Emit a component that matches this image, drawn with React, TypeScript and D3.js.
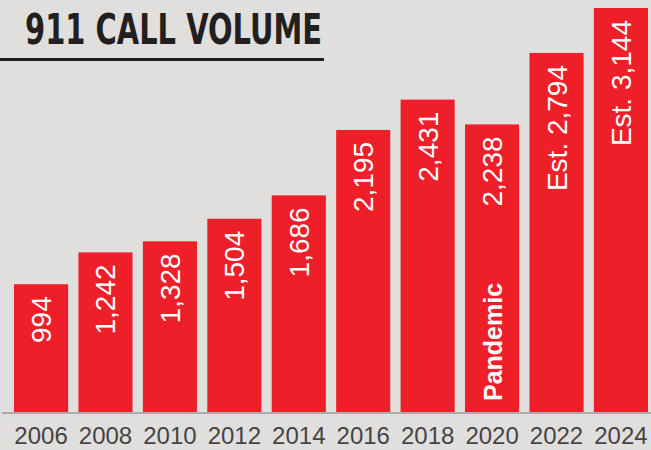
import { useRef, useEffect } from 'react';
import * as d3 from 'd3';

const years = ['2006', '2008', '2010', '2012', '2014', '2016', '2018', '2020', '2022', '2024'];
const calls = [994, 1242, 1328, 1504, 1686, 2195, 2431, 2238, 2794, 3144];
const estimated = [false, false, false, false, false, false, false, false, true, true];
const notes = ['', '', '', '', '', '', '', 'Pandemic', '', ''];

const title = '911 CALL VOLUME';

const width = 651;
const height = 450;
const baseline = 412;

const RED = '#ee1f29';
const BG = '#e0dfdd';

export default function App() {
  const svgRef = useRef<SVGSVGElement>(null);

  useEffect(() => {
    document.body.style.margin = '0';
    if (!svgRef.current) return;
    const svg = d3.select(svgRef.current);
    svg.selectAll('*').remove();

    const x = d3.scaleBand<string>().domain(years).range([14, 648]).paddingInner(0.16).paddingOuter(0);
    const y = d3.scaleLinear().domain([0, 3144]).range([baseline, 8]);

    svg.append('rect').attr('width', width).attr('height', height).attr('fill', BG);

    // title + rule
    svg
      .append('text')
      .attr('x', 25)
      .attr('y', 44)
      .attr('font-family', '"Liberation Sans Narrow", "DejaVu Sans Condensed", "Liberation Sans", sans-serif')
      .attr('font-weight', 'bold')
      .attr('font-size', 43)
      .attr('fill', '#231f20')
      .attr('textLength', 297)
      .attr('lengthAdjust', 'spacingAndGlyphs')
      .text(title);

    svg
      .append('line')
      .attr('x1', 0)
      .attr('x2', 324)
      .attr('y1', 59.5)
      .attr('y2', 59.5)
      .attr('stroke', '#231f20')
      .attr('stroke-width', 3);

    const data = years.map((yr, i) => ({ yr, v: calls[i], est: estimated[i], note: notes[i] }));

    svg
      .append('g')
      .selectAll('rect')
      .data(data)
      .join('rect')
      .attr('x', (d) => x(d.yr)!)
      .attr('y', (d) => y(d.v))
      .attr('width', x.bandwidth())
      .attr('height', (d) => baseline - y(d.v))
      .attr('fill', RED);

    // baseline
    svg
      .append('line')
      .attr('x1', 2)
      .attr('x2', width)
      .attr('y1', baseline + 1)
      .attr('y2', baseline + 1)
      .attr('stroke', '#9a9a9a')
      .attr('stroke-width', 1.5);

    // value labels, rotated
    const fmt = d3.format(',');
    svg
      .append('g')
      .selectAll('text')
      .data(data)
      .join('text')
      .attr('transform', (d) => `translate(${x(d.yr)! + x.bandwidth() / 2 + 10},${y(d.v) + 12}) rotate(-90)`)
      .attr('text-anchor', 'end')
      .attr('font-family', '"Liberation Sans", Arial, sans-serif')
      .attr('font-size', 28)
      .attr('fill', '#fff')
      .text((d) => (d.est ? 'Est. ' : '') + fmt(d.v));

    svg
      .append('g')
      .selectAll('text')
      .data(data.filter((d) => d.note))
      .join('text')
      .attr('transform', (d) => `translate(${x(d.yr)! + x.bandwidth() / 2 + 10},${baseline - 11}) rotate(-90)`)
      .attr('text-anchor', 'start')
      .attr('font-family', '"Liberation Sans", Arial, sans-serif')
      .attr('font-weight', 'bold')
      .attr('font-size', 25)
      .attr('fill', '#fff')
      .text((d) => d.note);

    // x axis labels
    const ax = svg
      .append('g')
      .attr('transform', `translate(0,${baseline})`)
      .call(d3.axisBottom(x).tickSize(0).tickPadding(15));
    ax.select('.domain').remove();
    ax.selectAll('text')
      .attr('font-family', '"Liberation Sans", Arial, sans-serif')
      .attr('font-size', 24)
      .attr('fill', '#444');
  }, []);

  return <svg ref={svgRef} width={width} height={height} viewBox={`0 0 ${width} ${height}`} style={{ display: 'block' }} />;
}
